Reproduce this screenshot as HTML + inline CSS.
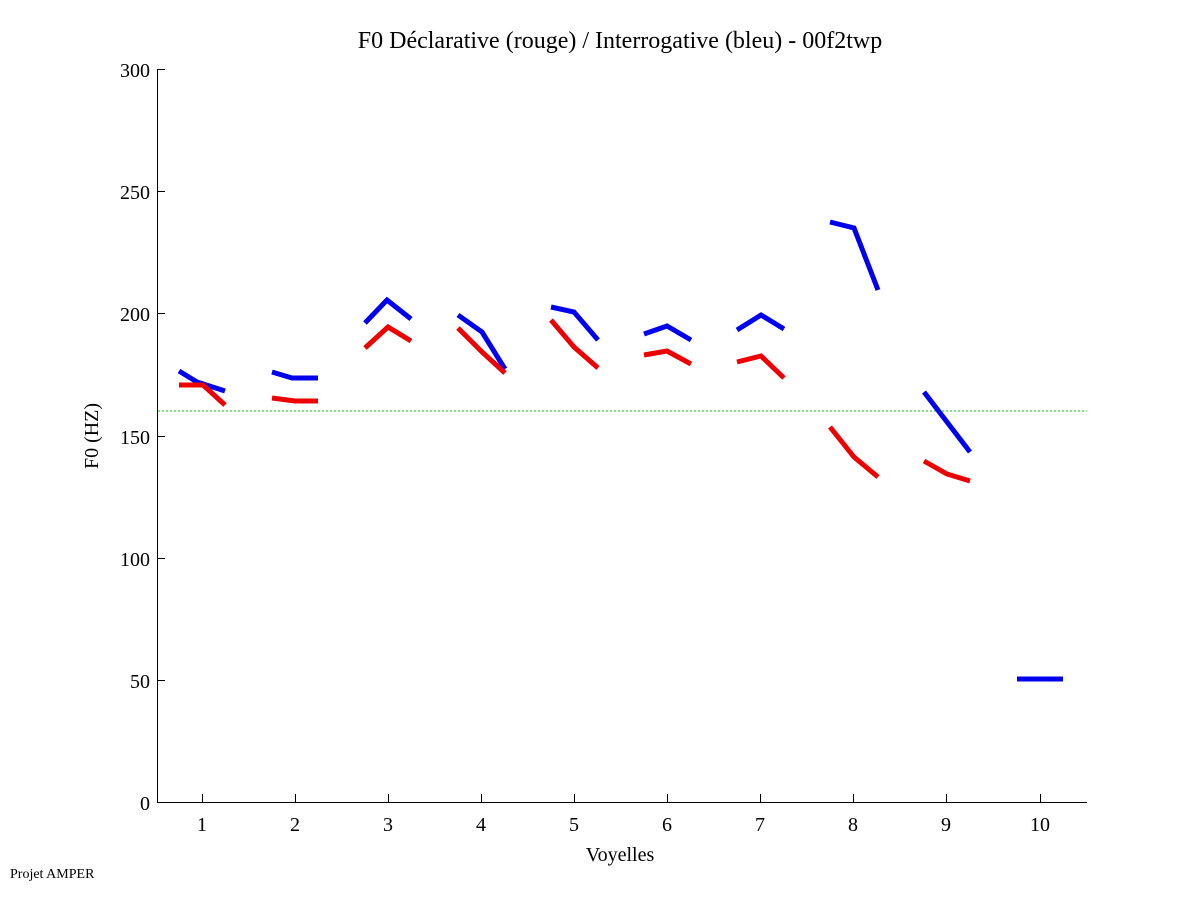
<!DOCTYPE html>
<html><head><meta charset="utf-8"><style>body{margin:0;background:#fff}svg{display:block}text{font-family:"Liberation Serif",serif;fill:#000}</style></head><body>
<svg width="1201" height="901" viewBox="0 0 1201 901" xmlns="http://www.w3.org/2000/svg">
<rect width="1201" height="901" fill="#fff"/>
<text x="620" y="48" font-size="24" text-anchor="middle">F0 Déclarative (rouge) / Interrogative (bleu) - 00f2twp</text>
<g stroke="#000" stroke-width="1" fill="none">
<line x1="157.5" y1="69" x2="157.5" y2="802"/>
<line x1="157" y1="802.5" x2="1087" y2="802.5"/>
<line x1="157" y1="69.5" x2="165" y2="69.5"/>
<line x1="157" y1="191.5" x2="165" y2="191.5"/>
<line x1="157" y1="313.5" x2="165" y2="313.5"/>
<line x1="157" y1="436.5" x2="165" y2="436.5"/>
<line x1="157" y1="558.5" x2="165" y2="558.5"/>
<line x1="157" y1="680.5" x2="165" y2="680.5"/>
<g id="xt">
<line x1="202.5" y1="802" x2="202.5" y2="794"/><line x1="295.5" y1="802" x2="295.5" y2="794"/><line x1="388.5" y1="802" x2="388.5" y2="794"/><line x1="481.5" y1="802" x2="481.5" y2="794"/><line x1="574.5" y1="802" x2="574.5" y2="794"/><line x1="667.5" y1="802" x2="667.5" y2="794"/><line x1="760.5" y1="802" x2="760.5" y2="794"/><line x1="853.5" y1="802" x2="853.5" y2="794"/><line x1="946.5" y1="802" x2="946.5" y2="794"/><line x1="1040.5" y1="802" x2="1040.5" y2="794"/>
</g></g>
<g font-size="20" text-anchor="end">
<text x="150" y="77">300</text><text x="150" y="199">250</text><text x="150" y="321">200</text><text x="150" y="444">150</text><text x="150" y="566">100</text><text x="150" y="688">50</text><text x="150" y="810">0</text>
</g>
<g font-size="20" text-anchor="middle">
<text x="202" y="831">1</text><text x="295" y="831">2</text><text x="388" y="831">3</text><text x="481" y="831">4</text><text x="574" y="831">5</text><text x="667" y="831">6</text><text x="760" y="831">7</text><text x="853" y="831">8</text><text x="946" y="831">9</text><text x="1040" y="831">10</text>
<text x="620" y="861">Voyelles</text>
<text transform="translate(98,436) rotate(-90)">F0 (HZ)</text>
</g>
<text x="10" y="878" font-size="14">Projet AMPER</text>
<line x1="158" y1="411" x2="1087" y2="411" stroke="#00cc00" stroke-width="1" stroke-dasharray="2,2"/>
<g fill="none" stroke="#0000ee" stroke-width="5">
<polyline points="179,371 197,382 225,391"/>
<polyline points="272,372 292,378 318,378"/>
<polyline points="365,323 387,300 411,319"/>
<polyline points="458,315 482,332 505,369"/>
<polyline points="551,307 574,312 598,340"/>
<polyline points="644,334 667,326 691,340"/>
<polyline points="737,330 761,315 784,329"/>
<polyline points="830,222 854,228 878,290"/>
<polyline points="924,392 947,422 970,452"/>
<polyline points="1017,679 1063,679"/>
</g>
<g fill="none" stroke="#ee0000" stroke-width="5">
<polyline points="179,385 203,385 225,405"/>
<polyline points="272,398 295,401 318,401"/>
<polyline points="365,348 388,327 411,341"/>
<polyline points="458,328 482,352 505,373"/>
<polyline points="551,320 574,347 598,368"/>
<polyline points="644,355 667,351 691,364"/>
<polyline points="737,362 761,356 784,378"/>
<polyline points="830,427 854,457 878,477"/>
<polyline points="924,461 947,474 970,481"/>
</g>
</svg>
</body></html>
